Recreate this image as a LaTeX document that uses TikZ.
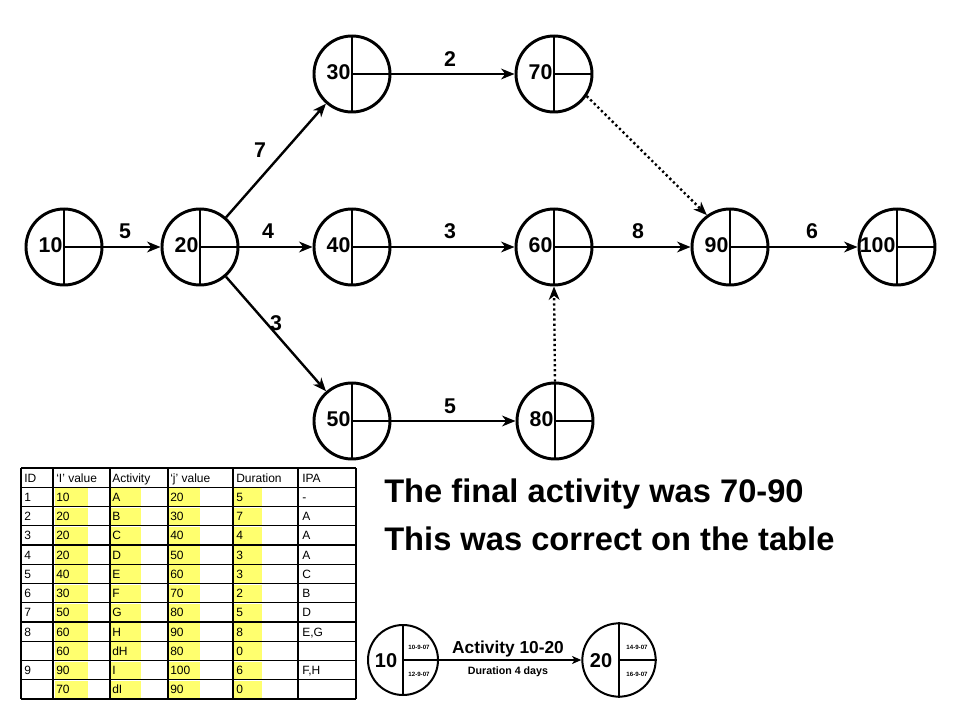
\documentclass[tikz,border=0pt]{standalone}
\usepackage{fontspec}
\setmainfont{Liberation Sans}
\usetikzlibrary{arrows.meta}
\definecolor{hlyellow}{RGB}{255,255,110}
\newcommand\tabtexts[7]{%
  \pgfmathsetmacro\rbase{468+19.25*#1+14}%
  \node[tcell] (r#1a) at (24,\rbase) {#2};
  \node[tcell] (r#1b) at (56,\rbase) {#3};
  \node[tcell] (r#1c) at (112,\rbase) {#4};
  \node[tcell] (r#1d) at (170,\rbase) {#5};
  \node[tcell] (r#1e) at (236,\rbase) {#6};
  \node[tcell] (r#1f) at (302,\rbase) {#7};
}
\newcommand\tabrow[7]{%
  \pgfmathsetmacro\rtop{468+19.25*#1}%
  \fill[hlfill] (55,\rtop+1) rectangle (88,\rtop+18.5);
  \fill[hlfill] (111,\rtop+1) rectangle (141,\rtop+18.5);
  \fill[hlfill] (169,\rtop+1) rectangle (200,\rtop+18.5);
  \fill[hlfill] (234,\rtop+1) rectangle (262,\rtop+18.5);
  \tabtexts{#1}{#2}{#3}{#4}{#5}{#6}{#7}%
}
\begin{document}
\begin{tikzpicture}[x=0.75pt,y=-0.75pt,
  evnode/.style={circle,draw,line width=2.2pt,minimum size=57pt,inner sep=0pt},
  numtxt/.style={font=\bfseries\fontsize{16}{16}\selectfont,inner sep=0pt},
  elab/.style={font=\bfseries\fontsize{16}{16}\selectfont,inner sep=0pt},
  arr/.style={line width=1.8pt,-{Stealth[length=10pt,width=8pt,inset=3pt]}},
  dotarr/.style={line width=1.8pt,dash pattern=on 1.7pt off 2.1pt,-{Stealth[length=10pt,width=8pt,inset=3pt]}},
  quad/.style={line width=2.2pt},
  tcell/.style={anchor=base west,inner sep=0pt,font=\fontsize{9}{9}\selectfont},
  grid/.style={line width=0.9pt},
  hlfill/.style={fill=hlyellow},
  legnode/.style={circle,draw,line width=1.5pt,inner sep=0pt},
  legquad/.style={line width=1.5pt},
  datetxt/.style={font=\bfseries\fontsize{4.6}{5}\selectfont,inner sep=0pt},
  bigtxt/.style={anchor=base west,inner sep=0pt,font=\bfseries\fontsize{24.5}{28}\selectfont}
]
\useasboundingbox (0,0) rectangle (960,720);
\fill[white] (0,0) rectangle (960,720);

% event nodes
\foreach \nm/\px/\py in {10/64/247,20/200/247,30/352/74,70/554/74,40/352/247,60/554/247,90/730/247,100/897/247,50/352/421,80/555/421}{
  \node[evnode] (n\nm) at (\px,\py) {};
  \draw[quad] (n\nm.north) -- (n\nm.south);
  \draw[quad] (n\nm.center) -- (n\nm.east);
  \node[numtxt,anchor=base east] (t\nm) at ([xshift=-1pt,yshift=-4pt]n\nm.center) {\nm};
}

% activities
\draw[arr] (n10) -- (n20);
\draw[arr] (n20) -- (n30);
\draw[arr] (n20) -- (n40);
\draw[arr] (n20) -- (n50);
\draw[arr] (n30) -- (n70);
\draw[arr] (n40) -- (n60);
\draw[arr] (n50) -- (n80);
\draw[arr] (n60) -- (n90);
\draw[arr] (n90) -- (n100);
\draw[dotarr] (n70.-34) -- (n90.126);
\draw[dotarr] (n80.north) -- (n60.south);

% durations
\node[elab] (d1) at (125,231) {5};
\node[elab] (d2) at (260,150) {7};
\node[elab] (d3) at (268,231) {4};
\node[elab] (d4) at (276,323) {3};
\node[elab] (d5) at (450,59) {2};
\node[elab] (d6) at (450,231) {3};
\node[elab] (d7) at (450,406) {5};
\node[elab] (d8) at (638,231) {8};
\node[elab] (d9) at (812,231) {6};

% table
\tabtexts{0}{ID}{‘I’ value}{Activity}{‘j’ value}{Duration}{IPA}
\tabrow{1}{1}{10}{A}{20}{5}{-}
\tabrow{2}{2}{20}{B}{30}{7}{A}
\tabrow{3}{3}{20}{C}{40}{4}{A}
\tabrow{4}{4}{20}{D}{50}{3}{A}
\tabrow{5}{5}{40}{E}{60}{3}{C}
\tabrow{6}{6}{30}{F}{70}{2}{B}
\tabrow{7}{7}{50}{G}{80}{5}{D}
\tabrow{8}{8}{60}{H}{90}{8}{E,G}
\tabrow{9}{}{60}{dH}{80}{0}{}
\tabrow{10}{9}{90}{I}{100}{6}{F,H}
\tabrow{11}{}{70}{dI}{90}{0}{}
\foreach \k in {0,...,12}{\draw[grid] (21,468+19.25*\k) -- (356,468+19.25*\k);}
\foreach \xx in {21,53,110,168,233,298,356}{\draw[grid] (\xx,468) -- (\xx,699);}

% statement
\node[bigtxt] (s1) at (384,502) {The final activity was 70-90};
\node[bigtxt] (s2) at (384,550) {This was correct on the table};

% legend
\node[legnode,minimum size=52.5pt] (L10) at (403,660) {};
\draw[legquad] (L10.north) -- (L10.south);
\draw[legquad] (L10.center) -- (L10.east);
\node[numtxt,font=\bfseries\fontsize{15}{15}\selectfont] (L10t) at (386,661) {10};
\node[datetxt] (L10a) at (419,647) {10-9-07};
\node[datetxt] (L10b) at (419,674) {12-9-07};
\node[legnode,minimum size=55pt] (L20) at (619,660) {};
\draw[legquad] (L20.north) -- (L20.south);
\draw[legquad] (L20.center) -- (L20.east);
\node[numtxt,font=\bfseries\fontsize{15}{15}\selectfont] (L20t) at (601,661) {20};
\node[datetxt] (L20a) at (637,647) {14-9-07};
\node[datetxt] (L20b) at (637,674) {16-9-07};
\draw[line width=1.2pt,-{Stealth[length=7pt,width=6pt,inset=2pt]}] (L10.east) -- (L20.west);
\node[inner sep=0pt,font=\bfseries\fontsize{13}{13}\selectfont] (La) at (508,649) {Activity 10-20};
\node[inner sep=0pt,font=\bfseries\fontsize{8}{8}\selectfont] (Lb) at (508,672) {Duration 4 days};
\end{tikzpicture}
\end{document}
